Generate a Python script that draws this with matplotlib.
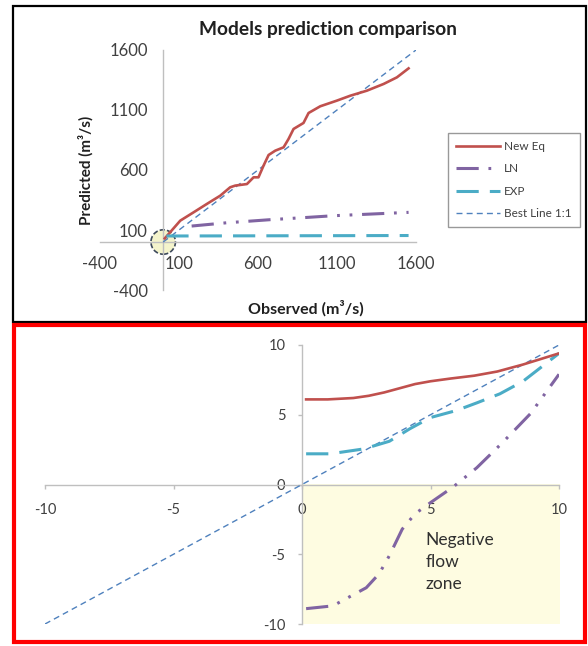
import matplotlib
matplotlib.use("Agg")
import matplotlib.pyplot as plt
from matplotlib.patches import Rectangle

plt.rcParams['font.family'] = ['Lato', 'DejaVu Sans']
plt.rcParams['lines.scale_dashes'] = False
plt.rcParams['axes.unicode_minus'] = False

# ---------------- data (top panel) ----------------
top_ticks = [-400, 100, 600, 1100, 1600]
new_eq_x = [10, 108, 192, 276, 361, 424, 456, 530, 572, 603, 635, 667, 709, 762,
            793, 825, 888, 920, 994, 1099, 1184, 1289, 1395, 1479, 1553]
new_eq_y = [30, 178, 247, 317, 386, 456, 470, 483, 539, 539, 636, 725, 761, 789,
            858, 942, 992, 1075, 1131, 1178, 1219, 1261, 1317, 1372, 1447]
ln_x = [180, 400, 677, 900, 1078, 1300, 1553]
ln_y = [133, 160, 186, 204, 219, 232, 247]
exp_x = [20, 400, 800, 1200, 1553]
exp_y = [50, 51, 52, 53, 54]
best_top = [0, 1600]

# ---------------- data (bottom panel) ----------------
bot_ticks = [-10, -5, 0, 5, 10]
new_eq_bx = [0.16, 1.0, 2.0, 2.6, 3.2, 3.8, 4.4, 5.0, 5.8, 6.7, 7.6, 8.6, 9.3, 10]
new_eq_by = [6.1, 6.1, 6.2, 6.36, 6.6, 6.9, 7.2, 7.4, 7.6, 7.8, 8.1, 8.6, 9.0, 9.4]
ln_bx = [0.16, 1.2, 2.5, 3.0, 3.4, 3.9, 4.4, 5.0, 5.9, 6.8, 7.8, 8.9, 10]
ln_by = [-8.9, -8.7, -7.4, -6.4, -5.1, -3.2, -2.1, -1.3, -0.15, 1.2, 3.0, 5.1, 7.9]
exp_bx = [0.16, 1.1, 2.4, 3.4, 4.2, 5.0, 6.0, 6.8, 7.7, 8.6, 10]
exp_by = [2.2, 2.2, 2.55, 3.1, 4.0, 4.8, 5.3, 5.85, 6.5, 7.4, 9.4]
best_bot = [-10, 10]
zone_x = [0, 10.15]
zone_y = [-10, 0]

RED = '#C0504D'
PURPLE = '#8064A2'
CYAN = '#4BACC6'
BLUE = '#4F81BD'
AXIS = '#BFBFBF'
TXT = '#404040'

LN_STYLE = (0, (16, 7, 2, 7, 2, 7))
EXP_STYLE = (0, (16, 8))
BEST_STYLE = (0, (4.3, 3))

W, H = 588, 646
fig = plt.figure(figsize=(W / 100, H / 100), dpi=100)


def fx(px):
    return px / W


def fy(py):
    return 1 - py / H


# borders
fig.patches.append(Rectangle((fx(13), fy(322)), fx(586) - fx(13), fy(6) - fy(322),
                             transform=fig.transFigure, fill=False, edgecolor='black',
                             linewidth=1.6, zorder=0))
fig.patches.append(Rectangle((fx(14), fy(642)), fx(585) - fx(14), fy(325) - fy(642),
                             transform=fig.transFigure, fill=False, edgecolor='#FF0000',
                             linewidth=3.0, zorder=5))

# ---------------- top panel ----------------
ax = fig.add_axes([fx(100), fy(290), fx(416) - fx(100), fy(50) - fy(290)])
ax.set_xlim(-400, 1600)
ax.set_ylim(-400, 1600)
for s in ['top', 'right']:
    ax.spines[s].set_visible(False)
ax.spines['left'].set_position(('data', 0))
ax.spines['bottom'].set_position(('data', 0))
for s in ['left', 'bottom']:
    ax.spines[s].set_color(AXIS)
    ax.spines[s].set_linewidth(1.0)
ax.set_xticks(top_ticks)
ax.set_yticks(top_ticks)
ax.tick_params(axis='both', length=0, labelsize=12, colors=TXT)
ax.tick_params(axis='y', pad=11)
ax.tick_params(axis='x', pad=10)
ax.patch.set_alpha(0)

ax.scatter([0], [0], s=310, facecolor='#F4F4CC', edgecolor='#3E4A5C',
           linestyle='--', linewidth=1.2, zorder=2)
l1, = ax.plot(new_eq_x, new_eq_y, color=RED, lw=1.9, label='New Eq', zorder=4)
l2, = ax.plot(ln_x, ln_y, color=PURPLE, lw=2.2, linestyle=LN_STYLE, label='LN', zorder=4)
l3, = ax.plot(exp_x, exp_y, color=CYAN, lw=2.2, linestyle=EXP_STYLE, label='EXP', zorder=4)
l4, = ax.plot(best_top, best_top, color=BLUE, lw=1.0, linestyle=BEST_STYLE,
              label='Best Line 1:1', zorder=3)

leg = ax.legend(handles=[l1, l2, l3, l4], loc='upper left',
                bbox_to_anchor=(fx(448), fy(133)), bbox_transform=fig.transFigure,
                fontsize=8.5, frameon=True, fancybox=False, handlelength=3.7,
                handletextpad=0.35, labelspacing=0.95, borderpad=0.7,
                borderaxespad=0)
leg.get_frame().set_edgecolor('#808080')
leg.get_frame().set_linewidth(1.0)
for t in leg.get_texts():
    t.set_color(TXT)

fig.text(fx(328), fy(30), 'Models prediction comparison', ha='center', va='center',
         fontsize=13.8, fontweight='bold', color='#202020')
fig.text(fx(306), fy(308), 'Observed (m\u00b3/s)', ha='center', va='center',
         fontsize=11.5, fontweight='bold', color='#202020')
fig.text(fx(86), fy(170), 'Predicted (m\u00b3/s)', ha='center', va='center',
         rotation=90, fontsize=11, fontweight='bold', color='#202020')

# ---------------- bottom panel ----------------
bx = fig.add_axes([fx(45), fy(624), fx(559) - fx(45), fy(345) - fy(624)])
bx.set_xlim(-10, 10)
bx.set_ylim(-10, 10)
bx.patch.set_alpha(0)
for s in ['top', 'right']:
    bx.spines[s].set_visible(False)
bx.spines['left'].set_position(('data', 0))
bx.spines['bottom'].set_position(('data', 0))
for s in ['left', 'bottom']:
    bx.spines[s].set_color(AXIS)
    bx.spines[s].set_linewidth(1.0)
bx.set_xticks(bot_ticks)
bx.set_yticks(bot_ticks)
bx.tick_params(axis='both', direction='out', length=3, width=1.0, color=AXIS,
               labelsize=10.5, labelcolor=TXT)
bx.tick_params(axis='y', pad=9)
bx.tick_params(axis='x', pad=10)

bx.fill_between(zone_x, zone_y[0], zone_y[1], color='#FEFCE1', lw=0, zorder=0)
bx.text(4.8, -5.57, 'Negative\nflow\nzone', ha='left', va='center', fontsize=12.5,
        color='#303030', linespacing=1.45)
bx.plot(best_bot, best_bot, color=BLUE, lw=1.0, linestyle=BEST_STYLE, zorder=3)
bx.plot(exp_bx, exp_by, color=CYAN, lw=2.2, linestyle=EXP_STYLE, zorder=4)
bx.plot(ln_bx, ln_by, color=PURPLE, lw=2.2, linestyle=LN_STYLE, zorder=4)
bx.plot(new_eq_bx, new_eq_by, color=RED, lw=1.9, zorder=5)

fig.savefig('out.png', dpi=100)
